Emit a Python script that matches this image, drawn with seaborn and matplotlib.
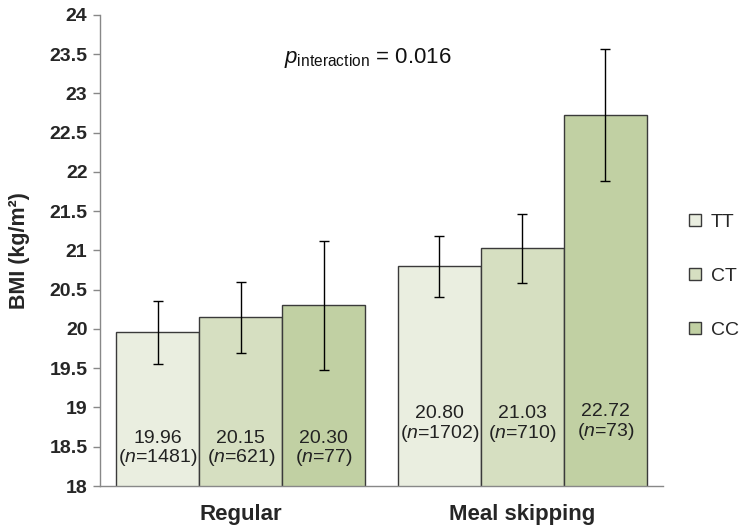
import pandas as pd
import numpy as np
import matplotlib
matplotlib.use("Agg")
import matplotlib.pyplot as plt
import seaborn as sns

# Data
groups = ["Regular", "Meal skipping"]
genotypes = ["TT", "CT", "CC"]
bmi_regular = [19.96, 20.15, 20.30]
bmi_skipping = [20.80, 21.03, 22.72]
err_regular = [0.40, 0.45, 0.82]
err_skipping = [0.39, 0.44, 0.84]
n_regular = [1481, 621, 77]
n_skipping = [1702, 710, 73]
colors = ["#EBF0DE", "#D8E4BC", "#C4D79B"]

df = pd.DataFrame({
    "group": [groups[0]] * 3 + [groups[1]] * 3,
    "genotype": genotypes * 2,
    "bmi": bmi_regular + bmi_skipping,
    "err": err_regular + err_skipping,
    "n": n_regular + n_skipping,
})

sns.set_style("white")
plt.rcParams["font.family"] = ["Liberation Sans", "DejaVu Sans"]
plt.rcParams["mathtext.fontset"] = "custom"
plt.rcParams["mathtext.rm"] = "Liberation Sans"
plt.rcParams["mathtext.it"] = "Liberation Sans:italic"

fig = plt.figure(figsize=(7.44, 5.30), dpi=100)
ax = fig.add_axes([0.1344, 0.083, 0.757, 0.889])

sns.barplot(
    data=df, x="group", y="bmi", hue="genotype",
    order=groups, hue_order=genotypes, palette=colors,
    width=0.885, errorbar=None, edgecolor="#3a3a3a", linewidth=1,
    ax=ax, legend=True
)

# error bars and labels
text_y = {groups[0]: 18.47, groups[1]: 18.78}
bar_containers = list(ax.containers)
for i, cont in enumerate(bar_containers):
    for j, bar in enumerate(cont):
        sub = df[(df["genotype"] == genotypes[i]) & (df["group"] == groups[j])].iloc[0]
        cx = bar.get_x() + bar.get_width() / 2
        ax.errorbar(cx, sub["bmi"], yerr=sub["err"], fmt="none",
                    ecolor="black", elinewidth=1, capsize=3.3, capthick=1)
        ty = text_y[groups[j]]
        if genotypes[i] == "CC" and j == 1:
            ty += 0.03
        ax.text(cx, ty, f"{sub['bmi']:.2f}\n($\\it{{n}}$={sub['n']})",
                ha="center", va="center", fontsize=14, color="#222222",
                linespacing=1.05)

ax.text(0.155, 23.45, r"$\it{p}_{\mathrm{interaction}}$ = 0.016",
        fontsize=16, ha="left", va="center", color="#111111")

ax.set_ylim(18, 24)
ax.set_xlim(-0.5, 1.5)
ax.set_yticks(np.arange(18, 24.01, 0.5))
ax.set_yticklabels([f"{v:g}" for v in np.arange(18, 24.01, 0.5)],
                   fontsize=14, fontweight="bold")
ax.set_xticks([0, 1])
ax.set_xticklabels(groups, fontsize=16, fontweight="bold")
ax.set_xticks([-0.5, 0.5, 1.5], minor=True)
ax.tick_params(axis="x", which="major", length=0, pad=13)
ax.tick_params(axis="x", which="minor", length=6, color="#888888", width=1)
ax.tick_params(axis="y", length=5, color="#888888", width=1, left=True, pad=4)
ax.set_xlabel("")
ax.set_ylabel("BMI (kg/m²)", fontsize=15.5, fontweight="bold")
ax.yaxis.set_label_coords(-0.125, 0.5)

for s in ["top", "right"]:
    ax.spines[s].set_visible(False)
for s in ["left", "bottom"]:
    ax.spines[s].set_color("#888888")
    ax.spines[s].set_linewidth(1)

handles, labels = ax.get_legend_handles_labels()
ax.get_legend().remove()
fig.legend(handles, labels, loc="center left", bbox_to_anchor=(0.903, 0.479),
           frameon=False, fontsize=14, handlelength=0.6, handleheight=0.6,
           handletextpad=0.5, labelspacing=1.9)

fig.savefig("out.png", dpi=100)
